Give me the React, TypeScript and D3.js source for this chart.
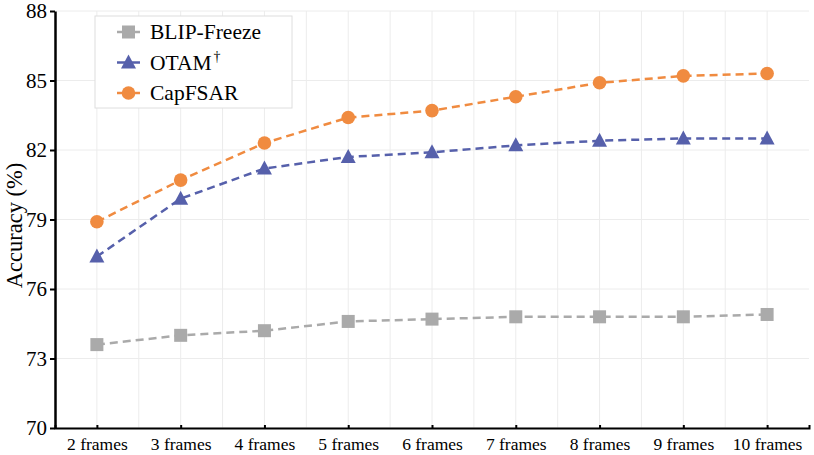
import React, { useEffect, useRef } from "react";
import * as d3 from "d3";

const frames = ["2 frames", "3 frames", "4 frames", "5 frames", "6 frames", "7 frames", "8 frames", "9 frames", "10 frames"];
const blipFreeze = [73.6, 74.0, 74.2, 74.6, 74.7, 74.8, 74.8, 74.8, 74.9];
const otam = [77.4, 79.9, 81.2, 81.7, 81.9, 82.2, 82.4, 82.5, 82.5];
const capFsar = [78.9, 80.7, 82.3, 83.4, 83.7, 84.3, 84.9, 85.2, 85.3];
const yTicks = [70, 73, 76, 79, 82, 85, 88];

const series = [
  { name: "BLIP-Freeze", values: blipFreeze, color: "#aaaaaa", shape: "square" },
  { name: "OTAM", sup: "†", values: otam, color: "#5660ab", shape: "triangle" },
  { name: "CapFSAR", values: capFsar, color: "#f08b40", shape: "circle" },
];

const FONT = "'Liberation Serif', 'Times New Roman', serif";

export default function App() {
  const ref = useRef<SVGSVGElement>(null);

  useEffect(() => {
    const svg = d3.select(ref.current);
    svg.selectAll("*").remove();

    const width = 814;
    const height = 455;
    const margin = { top: 11, right: 5, bottom: 27, left: 55 };

    const x = d3
      .scalePoint<string>()
      .domain(frames)
      .range([margin.left, width - margin.right])
      .padding(0.5);

    const y = d3
      .scaleLinear()
      .domain([70, 88])
      .range([height - margin.bottom, margin.top]);

    // grid
    const grid = svg.append("g").attr("stroke", "#ececec").attr("stroke-width", 1);
    const half = x.step() / 2;
    d3.range(1, frames.length * 2).forEach((k) => {
      const gx = margin.left + k * half;
      grid.append("line").attr("x1", gx).attr("x2", gx).attr("y1", y(88)).attr("y2", y(70));
    });
    yTicks.forEach((t) => {
      grid
        .append("line")
        .attr("x1", margin.left)
        .attr("x2", width - margin.right)
        .attr("y1", y(t))
        .attr("y2", y(t));
    });

    // axes
    const xAxis = svg
      .append("g")
      .attr("transform", `translate(0,${y(70)})`)
      .call(d3.axisBottom(x).tickSize(-3).tickSizeOuter(-3).tickPadding(10));
    xAxis.select(".domain").attr("stroke-width", 2);
    xAxis.selectAll(".tick line").attr("stroke-width", 2);
    xAxis
      .selectAll("text")
      .attr("font-family", FONT)
      .attr("font-size", 17.5)
      .attr("fill", "#000");

    const yAxis = svg
      .append("g")
      .attr("transform", `translate(${margin.left},0)`)
      .call(d3.axisLeft(y).tickValues(yTicks).tickSize(5).tickSizeOuter(0).tickPadding(3));
    yAxis.select(".domain").attr("stroke-width", 2.5);
    yAxis.selectAll(".tick line").attr("stroke-width", 2);
    yAxis
      .selectAll("text")
      .attr("font-family", FONT)
      .attr("font-size", 21)
      .attr("fill", "#000");

    svg
      .append("text")
      .attr("transform", `translate(22,225.5) rotate(-90)`)
      .attr("text-anchor", "middle")
      .attr("font-family", FONT)
      .attr("font-size", 22.5)
      .text("Accuracy (%)");

    const drawMarker = (g: any, shape: string, cx: number, cy: number, color: string) => {
      if (shape === "square") {
        g.append("rect")
          .attr("x", cx - 6.5)
          .attr("y", cy - 6.5)
          .attr("width", 13)
          .attr("height", 13)
          .attr("fill", color);
      } else if (shape === "triangle") {
        g.append("path")
          .attr("d", `M${cx},${cy - 8} L${cx + 7.5},${cy + 6} L${cx - 7.5},${cy + 6} Z`)
          .attr("fill", color);
      } else {
        g.append("circle").attr("cx", cx).attr("cy", cy).attr("r", 6.8).attr("fill", color);
      }
    };

    const line = d3
      .line<number>()
      .x((_, i) => x(frames[i])!)
      .y((d) => y(d));

    series.forEach((s) => {
      const g = svg.append("g");
      g.append("path")
        .attr("d", line(s.values))
        .attr("fill", "none")
        .attr("stroke", s.color)
        .attr("stroke-width", 2.5)
        .attr("stroke-dasharray", "8,5");
      s.values.forEach((v, i) => drawMarker(g, s.shape, x(frames[i])!, y(v), s.color));
    });

    // legend
    const lg = svg.append("g");
    lg.append("rect")
      .attr("x", 95)
      .attr("y", 16)
      .attr("width", 197)
      .attr("height", 92)
      .attr("fill", "#fff")
      .attr("stroke", "#dedede")
      .attr("stroke-width", 1);
    series.forEach((s, i) => {
      const ly = 32 + i * 30.5;
      lg.append("line")
        .attr("x1", 117)
        .attr("x2", 140)
        .attr("y1", ly)
        .attr("y2", ly)
        .attr("stroke", s.color)
        .attr("stroke-width", 2.5);
      drawMarker(lg, s.shape, 128.5, ly, s.color);
      const t = lg
        .append("text")
        .attr("x", 150)
        .attr("y", ly + 7)
        .attr("font-family", FONT)
        .attr("font-size", 21.5)
        .text(s.name);
      if (s.sup) {
        t.append("tspan").attr("font-size", 14).attr("dy", -9).attr("dx", 2).text(s.sup);
      }
    });
  }, []);

  return (
    <>
      <style>{"body{margin:0}"}</style>
      <svg ref={ref} width={814} height={455} style={{ display: "block", background: "#fff" }} />
    </>
  );
}
